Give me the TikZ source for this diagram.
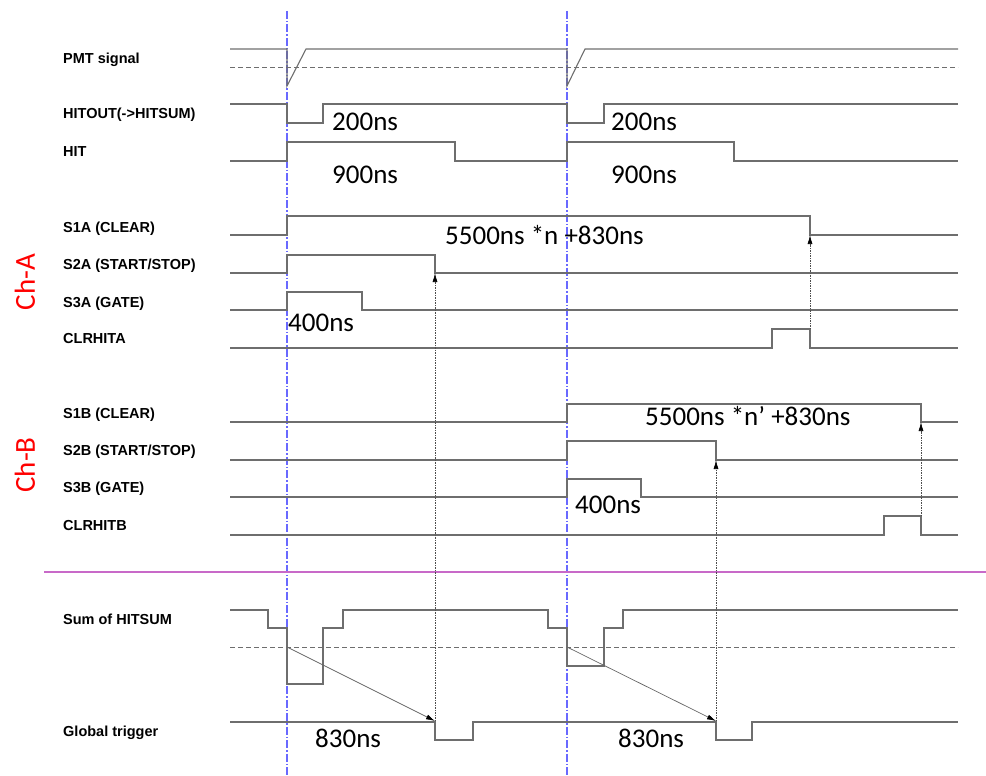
\documentclass[tikz,border=0pt]{standalone}
\usepackage{fontspec}
\setmainfont{Liberation Sans}
\newfontfamily\calib{Carlito}
\usetikzlibrary{arrows.meta}
\definecolor{sig}{RGB}{110,110,110}
\definecolor{evblue}{RGB}{105,105,255}
\definecolor{sepline}{RGB}{200,105,200}
\begin{document}
\begin{tikzpicture}[x=1pt,y=-1pt,
  wave/.style={draw=sig, line width=1.1pt, line join=miter},
  thresh/.style={draw=sig, line width=0.8pt, dash pattern=on 5pt off 3pt},
  evmark/.style={color=evblue, line width=1.2pt, dash pattern=on 8pt off 2pt on 1.5pt off 2pt},
  trigline/.style={draw=black!70, line width=0.7pt, dash pattern=on 1.5pt off 1pt, -{Latex[length=9pt,width=5pt,black]}},
  delayline/.style={draw=black!60, line width=0.7pt, -{Latex[length=9pt,width=5pt,black]}},
  siglabel/.style={anchor=west, font=\bfseries\fontsize{14.5}{14.5}\selectfont, inner sep=0pt, text height=10.4pt, text depth=0pt},
  dur/.style={anchor=west, font=\calib\fontsize{27}{27}\selectfont, inner sep=0pt, text height=17.3pt, text depth=0pt},
  chan/.style={text=red, font=\calib\fontsize{29}{29}\selectfont, rotate=90, inner sep=0pt}
]
\useasboundingbox (0,0) rectangle (986,776);

% event markers
\coordinate (m1t) at (287,11); \coordinate (m1b) at (287,776);
\coordinate (m2t) at (567,11); \coordinate (m2b) at (567,776);
\draw[evmark] (m1t) -- (m1b);
\draw[evmark] (m2t) -- (m2b);

% separator
\coordinate (sepl) at (44,572); \coordinate (sepr) at (986,572);
\draw[draw=sepline, line width=1.1pt] (sepl) -- (sepr);

% labels
\node[siglabel] (lpmt) at (63,58) {PMT signal};
\node[siglabel] (lhitout) at (63,113) {HITOUT(->HITSUM)};
\node[siglabel] (lhit) at (63,151) {HIT};
\node[siglabel] (ls1a) at (63,227) {S1A (CLEAR)};
\node[siglabel] (ls2a) at (63,264) {S2A (START/STOP)};
\node[siglabel] (ls3a) at (63,302) {S3A (GATE)};
\node[siglabel] (lclra) at (63,338) {CLRHITA};
\node[siglabel] (ls1b) at (63,413) {S1B (CLEAR)};
\node[siglabel] (ls2b) at (63,450) {S2B (START/STOP)};
\node[siglabel] (ls3b) at (63,487) {S3B (GATE)};
\node[siglabel] (lclrb) at (63,525) {CLRHITB};
\node[siglabel] (lsum) at (63,619) {Sum of HITSUM};
\node[siglabel] (lgt) at (63,731) {Global trigger};
\node[chan] (cha) at (25,282) {Ch-A};
\node[chan] (chb) at (25,465) {Ch-B};

% PMT signal
\draw[thresh] (230,67) -- (958,67);
\draw[wave] (230,49) -- (287,49) -- (287,86) -- (306,49) -- (567,49) -- (567,86) -- (585,49) -- (958,49);
% HITOUT
\draw[wave] (230,104) -- (287,104) -- (287,123) -- (323,123) -- (323,104) -- (567,104) -- (567,123) -- (604,123) -- (604,104) -- (958,104);
% HIT
\draw[wave] (230,161) -- (287,161) -- (287,142) -- (455,142) -- (455,161) -- (567,161) -- (567,142) -- (734,142) -- (734,161) -- (958,161);
% S1A
\draw[wave] (230,235) -- (287,235) -- (287,216) -- (810,216) -- (810,235) -- (958,235);
% S2A
\draw[wave] (230,273) -- (287,273) -- (287,255) -- (435,255) -- (435,273) -- (958,273);
% S3A
\draw[wave] (230,310) -- (287,310) -- (287,292) -- (362,292) -- (362,310) -- (958,310);
% CLRHITA
\draw[wave] (230,348) -- (772,348) -- (772,329) -- (810,329) -- (810,348) -- (958,348);
% S1B
\draw[wave] (230,422) -- (567,422) -- (567,404) -- (921,404) -- (921,422) -- (958,422);
% S2B
\draw[wave] (230,460) -- (567,460) -- (567,441) -- (716,441) -- (716,460) -- (958,460);
% S3B
\draw[wave] (230,497) -- (567,497) -- (567,479) -- (641,479) -- (641,497) -- (958,497);
% CLRHITB
\draw[wave] (230,535) -- (884,535) -- (884,516) -- (921,516) -- (921,535) -- (958,535);
% Sum of HITSUM
\draw[thresh] (230,647) -- (958,647);
\draw[wave] (230,610) -- (268,610) -- (268,628) -- (287,628) -- (287,684) -- (323,684) -- (323,628) -- (343,628) -- (343,610) -- (548,610) -- (548,628) -- (567,628) -- (567,666) -- (604,666) -- (604,628) -- (623,628) -- (623,610) -- (958,610);
% Global trigger
\draw[wave] (230,722) -- (435,722) -- (435,740) -- (473,740) -- (473,722) -- (716,722) -- (716,740) -- (752,740) -- (752,722) -- (958,722);

% causal arrows
\coordinate (thr1) at (287,647); \coordinate (gt1) at (435,721);
\coordinate (thr2) at (567,647); \coordinate (gt2) at (716,721);
\draw[delayline] (thr1) -- (gt1);
\draw[delayline] (thr2) -- (gt2);
\coordinate (s2aend) at (435,273); \coordinate (s2bend) at (716,460);
\draw[trigline] (gt1) -- (s2aend);
\draw[trigline] (gt2) -- (s2bend);
\coordinate (clra) at (810,329); \coordinate (s1aend) at (810,235);
\coordinate (clrb) at (921,516); \coordinate (s1bend) at (921,422);
\draw[trigline] (clra) -- (s1aend);
\draw[trigline] (clrb) -- (s1bend);

% durations
\node[dur] (d200a) at (332,122) {200ns};
\node[dur] (d200b) at (611,122) {200ns};
\node[dur] (d900a) at (332,175) {900ns};
\node[dur] (d900b) at (611,175) {900ns};
\node[dur] (dcla) at (445,236) {5500ns *n +830ns};
\node[dur] (d400a) at (288,323) {400ns};
\node[dur] (dclb) at (645,417) {5500ns *n’ +830ns};
\node[dur] (d400b) at (575,505) {400ns};
\node[dur] (d830a) at (315,739) {830ns};
\node[dur] (d830b) at (618,739) {830ns};
\end{tikzpicture}
\end{document}
